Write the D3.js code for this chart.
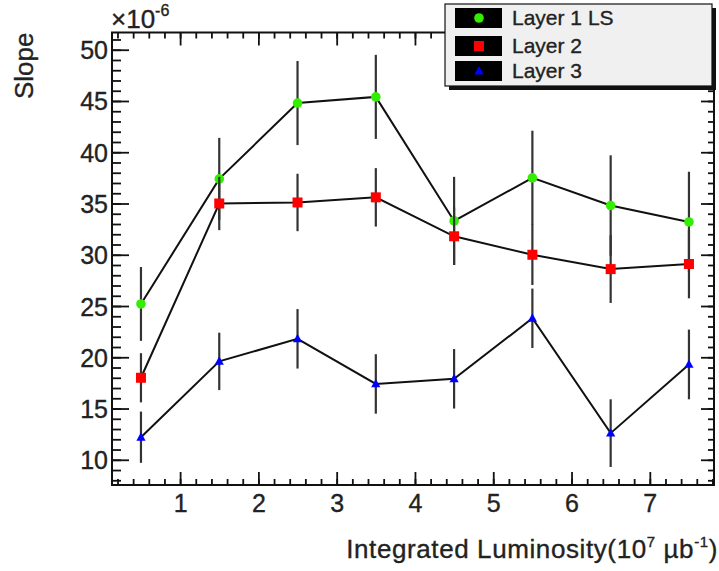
<!DOCTYPE html>
<html>
<head>
<meta charset="utf-8">
<script src="https://cdn.jsdelivr.net/npm/d3@7/dist/d3.min.js"></script>
<style>
  body { margin: 0; background: #fff; }
  text { font-family: "Liberation Sans", Arial, Helvetica, sans-serif; fill: #222; stroke: #222; stroke-width: 0.35px; }
</style>
</head>
<body>
<svg id="chart" width="719" height="571"></svg>
<script>
// values (slope in units of 1e-6)
var lumi = [0.5, 1.5, 2.5, 3.5, 4.5, 5.5, 6.5, 7.5];
var layer1 = [25.2, 37.4, 44.8, 45.4, 33.3, 37.5, 34.8, 33.2];
var layer1Err = [3.6, 4.0, 4.1, 4.1, 4.3, 4.6, 4.9, 4.9];
var layer2 = [18.0, 35.0, 35.1, 35.6, 31.8, 30.0, 28.6, 29.1];
var layer2Err = [2.4, 2.6, 2.8, 2.85, 2.8, 2.95, 3.3, 3.35];
var layer3 = [12.2, 19.6, 21.8, 17.4, 17.9, 23.8, 12.6, 19.3];
var layer3Err = [2.5, 2.8, 2.9, 2.9, 2.9, 2.9, 3.3, 3.4];
var seriesNames = ["Layer 1 LS", "Layer 2", "Layer 3"];
var xTicks = [1, 2, 3, 4, 5, 6, 7];
var yTicks = [10, 15, 20, 25, 30, 35, 40, 45, 50];

var series = [
  {name: seriesNames[0], values: layer1, errs: layer1Err, color: "#33ee00", shape: "circle"},
  {name: seriesNames[1], values: layer2, errs: layer2Err, color: "#ff0000", shape: "square"},
  {name: seriesNames[2], values: layer3, errs: layer3Err, color: "#0000ff", shape: "triangle"}
];

var frame = {left: 112, right: 714, top: 32.5, bottom: 485};

var x = d3.scaleLinear().domain([0.13, 7.82]).range([frame.left, frame.right]);
var y = d3.scaleLinear().domain([7.54, 51.68]).range([frame.bottom, frame.top]);

var svg = d3.select("#chart");

function minorTicks(lo, hi, step) {
  var out = [];
  for (var i = Math.ceil(lo / step); i * step <= hi; ++i) out.push(+(i * step).toFixed(3));
  return out;
}
var xMinor = minorTicks(0.13, 7.82, 0.2);
var yMinor = minorTicks(7.54, 51.68, 1);

function tickStyle(g) {
  g.select(".domain").remove();
  g.selectAll(".tick line").attr("stroke", "#111").attr("stroke-width", 1.8);
  g.selectAll(".tick text").remove();
}

// bottom axis
svg.append("g").attr("transform", "translate(0," + frame.bottom + ")")
  .call(d3.axisBottom(x).tickValues(xMinor).tickSize(-6).tickSizeOuter(0)).call(tickStyle);
var gxb = svg.append("g").attr("transform", "translate(0," + frame.bottom + ")")
  .call(d3.axisBottom(x).tickValues(xTicks).tickSize(-13).tickSizeOuter(0));
gxb.select(".domain").remove();
gxb.selectAll(".tick line").attr("stroke", "#111").attr("stroke-width", 1.8);
gxb.selectAll(".tick text").attr("font-size", 25).attr("fill", "#222").attr("dy", "0.71em").attr("y", 9);

// top axis
svg.append("g").attr("transform", "translate(0," + frame.top + ")")
  .call(d3.axisTop(x).tickValues(xMinor).tickSize(-6).tickSizeOuter(0)).call(tickStyle);
svg.append("g").attr("transform", "translate(0," + frame.top + ")")
  .call(d3.axisTop(x).tickValues(xTicks).tickSize(-13).tickSizeOuter(0)).call(tickStyle);

// left axis
svg.append("g").attr("transform", "translate(" + frame.left + ",0)")
  .call(d3.axisLeft(y).tickValues(yMinor).tickSize(-9).tickSizeOuter(0)).call(tickStyle);
var gyl = svg.append("g").attr("transform", "translate(" + frame.left + ",0)")
  .call(d3.axisLeft(y).tickValues(yTicks).tickSize(-17).tickSizeOuter(0));
gyl.select(".domain").remove();
gyl.selectAll(".tick line").attr("stroke", "#111").attr("stroke-width", 1.8);
gyl.selectAll(".tick text").attr("font-size", 25).attr("fill", "#222").attr("x", -4).attr("dy", "0.36em");

// right axis
svg.append("g").attr("transform", "translate(" + frame.right + ",0)")
  .call(d3.axisRight(y).tickValues(yMinor).tickSize(-6).tickSizeOuter(0)).call(tickStyle);
svg.append("g").attr("transform", "translate(" + frame.right + ",0)")
  .call(d3.axisRight(y).tickValues(yTicks).tickSize(-13).tickSizeOuter(0)).call(tickStyle);

// frame
svg.append("rect")
  .attr("x", frame.left).attr("y", frame.top)
  .attr("width", frame.right - frame.left).attr("height", frame.bottom - frame.top)
  .attr("fill", "none").attr("stroke", "#111").attr("stroke-width", 2);

// exponent label
var expo = svg.append("text").attr("x", frame.left - 1).attr("y", 28).attr("font-size", 26);
expo.append("tspan").text("\u00d710");
expo.append("tspan").attr("font-size", 16).attr("dy", -12).text("-6");

// axis titles
var xt = svg.append("text").attr("x", 718).attr("y", 558).attr("text-anchor", "end")
  .attr("font-size", 26).attr("letter-spacing", 0.6);
xt.append("tspan").text("Integrated Luminosity(10");
xt.append("tspan").attr("font-size", 15).attr("dy", -11).text("7");
xt.append("tspan").attr("dy", 11).text(" \u00b5b");
xt.append("tspan").attr("font-size", 15).attr("dy", -11).text("-1");
xt.append("tspan").attr("dy", 11).text(")");

svg.append("text")
  .attr("transform", "translate(33," + frame.top + ") rotate(-90)")
  .attr("text-anchor", "end").attr("font-size", 26).text("Slope");

function drawMarker(sel, shape, color) {
  if (shape === "circle") {
    sel.append("circle").attr("r", 4.8).attr("fill", color);
  } else if (shape === "square") {
    sel.append("rect").attr("x", -5).attr("y", -5).attr("width", 10).attr("height", 10).attr("fill", color);
  } else {
    sel.append("path").attr("d", "M0,-5L4.6,3.4L-4.6,3.4Z").attr("fill", color);
  }
}

var line = d3.line().x(function(d) { return x(d.x); }).y(function(d) { return y(d.v); });

series.forEach(function(s) {
  var pts = lumi.map(function(lx, i) { return {x: lx, v: s.values[i], e: s.errs[i]}; });
  var g = svg.append("g");
  g.selectAll("line.err").data(pts).enter().append("line")
    .attr("class", "err")
    .attr("x1", function(d) { return x(d.x); }).attr("x2", function(d) { return x(d.x); })
    .attr("y1", function(d) { return y(d.v + d.e); }).attr("y2", function(d) { return y(d.v - d.e); })
    .attr("stroke", "#333").attr("stroke-width", 2.2);
  g.append("path").datum(pts).attr("d", line)
    .attr("fill", "none").attr("stroke", "#111").attr("stroke-width", 2);
  g.selectAll("g.mk").data(pts).enter().append("g")
    .attr("class", "mk")
    .attr("transform", function(d) { return "translate(" + x(d.x) + "," + y(d.v) + ")"; })
    .each(function() { drawMarker(d3.select(this), s.shape, s.color); });
});

// legend
var lg = svg.append("g");
lg.append("rect").attr("x", 449).attr("y", 8).attr("width", 267).attr("height", 82).attr("fill", "#111");
lg.append("rect").attr("x", 445).attr("y", 4).attr("width", 267).attr("height", 82)
  .attr("fill", "#f0f0f0").attr("stroke", "#111").attr("stroke-width", 1.2);
var rowY = [18, 46, 71];
series.forEach(function(s, i) {
  lg.append("rect").attr("x", 455).attr("y", rowY[i] - 10).attr("width", 47).attr("height", 20).attr("fill", "#000");
  drawMarker(lg.append("g").attr("transform", "translate(479," + rowY[i] + ")"), s.shape, s.color);
  lg.append("text").attr("x", 512).attr("y", rowY[i] + 7).attr("font-size", 21).text(s.name);
});
</script>
</body>
</html>
